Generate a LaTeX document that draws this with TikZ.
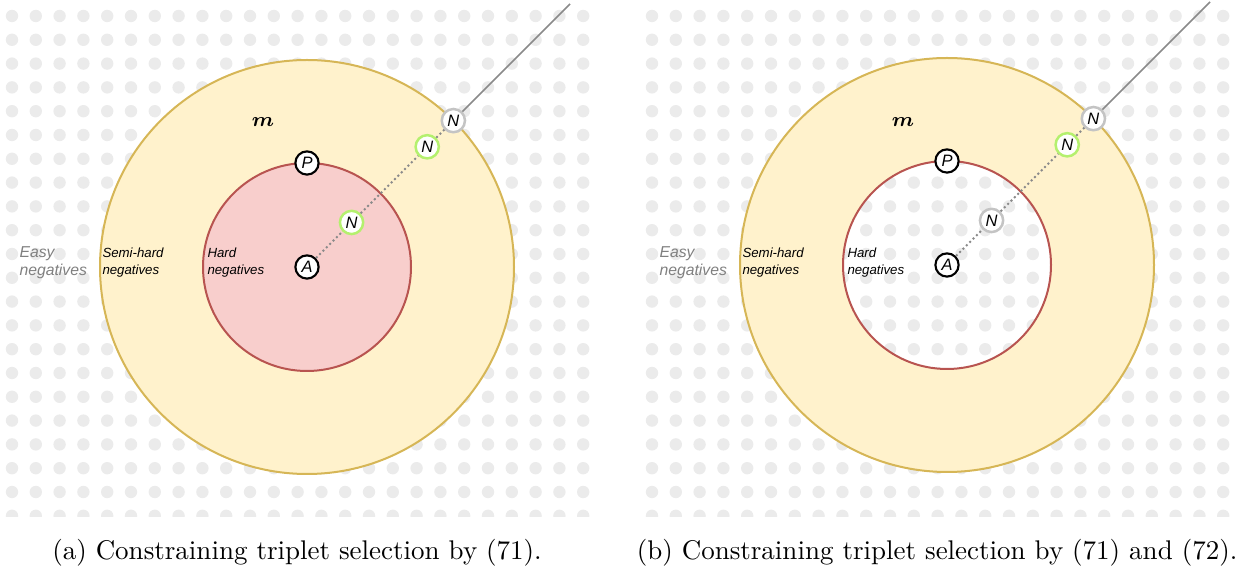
\documentclass[tikz,border=0pt]{standalone}
\usepackage{amsmath,amssymb}
\usepackage{bm}
\usepackage{fontspec}
\setsansfont{Liberation Sans}
\usepackage{xcolor}
\usetikzlibrary{positioning,calc}

\definecolor{dotgray}{HTML}{EBEBEB}
\definecolor{yellowfill}{HTML}{FFF2CC}
\definecolor{yellowline}{HTML}{D6B656}
\definecolor{redfill}{HTML}{F8CECC}
\definecolor{redline}{HTML}{B85450}
\definecolor{ngreen}{HTML}{B4F06E}
\definecolor{ngray}{HTML}{C4C4C4}
\definecolor{linegray}{HTML}{8A8A8A}
\definecolor{easygray}{HTML}{808080}

\begin{document}
\begin{tikzpicture}[x=0.4pt,y=0.4pt,
    blackpt/.style={circle,draw=black,line width=0.85pt,fill=white,minimum size=9.3pt,inner sep=0pt,
      font=\fontsize{6.6}{6.6}\selectfont\sffamily\itshape},
    greenpt/.style={blackpt,draw=ngreen,line width=1pt},
    graypt/.style={blackpt,draw=ngray,line width=1pt},
    lbl/.style={anchor=west,align=left,inner sep=0pt,font=\fontsize{5.3}{6.8}\selectfont\sffamily\itshape},
    easylbl/.style={lbl,text=easygray,font=\fontsize{6.3}{7.2}\selectfont\sffamily\itshape},
    capt/.style={font=\fontsize{10.8}{13}\selectfont}]
    \useasboundingbox (0,0) rectangle (1240,573);

    \foreach \pan/\sx/\sy/\rfill/\nsty/\ctext in {%
        a/0/0/redfill/greenpt/{(a) Constraining triplet selection by (71).},
        b/640/2/none/graypt/{(b) Constraining triplet selection by (71) and (72).}} {
    \begin{scope}[shift={(\sx,0)}]
        % Dotted background
        \begin{scope}
            \clip (0,56) rectangle (596,573);
            \foreach \i in {0,...,24}
                \foreach \j in {0,...,21}
                    \fill[dotgray] (12+23.8*\i,557-23.8*\j) circle (6.2);
        \end{scope}

        % Margins
        \coordinate (c\pan) at (307,306+\sy);
        \fill[yellowfill,even odd rule] (c\pan) circle (207) (c\pan) circle (104);
        \path[fill=\rfill] (c\pan) circle (104);
        \draw[yellowline,line width=0.8pt] (c\pan) circle (207);
        \draw[redline,line width=0.8pt] (c\pan) circle (104);

        % Labels
        \node[easylbl] (easy\pan) at (19,310) {Easy\\negatives};
        \node[lbl] (semi\pan) at (102,310) {Semi-hard\\negatives};
        \node[lbl] (hard\pan) at (207,310) {Hard\\negatives};
        \node[font=\fontsize{8}{8}\selectfont] (m\pan) at (263,451) {$\bm{m}$};

        % Triplet
        \node[blackpt] (A\pan) at (c\pan) {A};
        \node[blackpt] (P\pan) at ($(c\pan)+(90:104)$) {P};
        \node[\nsty] (Ni\pan) at ($(c\pan)+(45:63)$) {N};
        \node[greenpt] (Nm\pan) at ($(c\pan)+(45:170)$) {N};
        \node[graypt] (No\pan) at ($(c\pan)+(45:207)$) {N};
        \coordinate (E\pan) at ($(c\pan)+(45:372)$);
        \draw[linegray,line width=0.8pt,dash pattern=on 0.8pt off 1.1pt] (A\pan) -- (Ni\pan) -- (Nm\pan) -- (No\pan);
        \draw[linegray,line width=0.6pt] (No\pan) -- (E\pan);

        % Caption
        \node[capt] (cap\pan) at (297,20) {\ctext};
    \end{scope}
    }
\end{tikzpicture}
\end{document}
